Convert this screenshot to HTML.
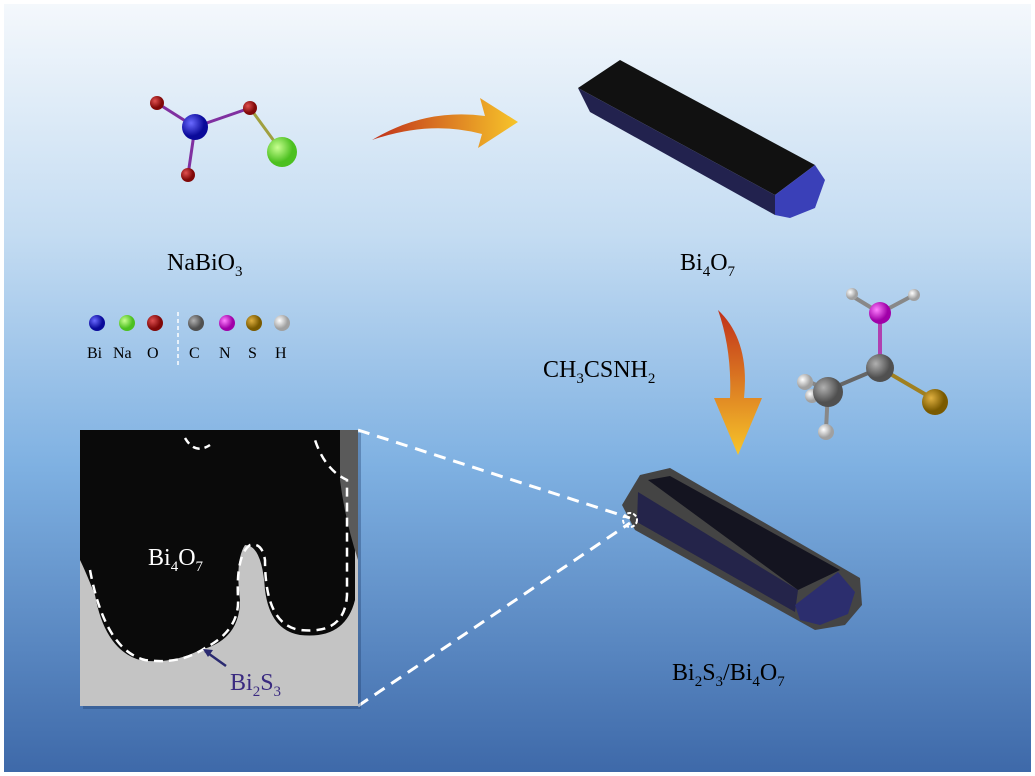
<!DOCTYPE html>
<html><head><meta charset="utf-8"><style>
html,body{margin:0;padding:0;width:1035px;height:776px;overflow:hidden;background:#fff}
svg text{font-family:"Liberation Serif",serif}
</style></head><body>
<svg width="1035" height="776" viewBox="0 0 1035 776" xmlns="http://www.w3.org/2000/svg">
<defs>
<linearGradient id="bg" x1="0" y1="0" x2="0" y2="1">
<stop offset="0" stop-color="#f4f8fc"/><stop offset="0.3" stop-color="#c4dcf2"/><stop offset="0.6" stop-color="#7fb1e2"/><stop offset="1" stop-color="#3e69a9"/></linearGradient>
<linearGradient id="ar" x1="0" y1="0" x2="1" y2="0"><stop offset="0" stop-color="#c0301a"/><stop offset="1" stop-color="#f7c52a"/></linearGradient>
<linearGradient id="ar2" x1="0" y1="0" x2="0" y2="1"><stop offset="0" stop-color="#c0301a"/><stop offset="1" stop-color="#f7c52a"/></linearGradient>
<radialGradient id="gB" cx=".35" cy=".35"><stop offset="0" stop-color="#6a6aff"/><stop offset="1" stop-color="#0a0a9a"/></radialGradient>
<radialGradient id="gG" cx=".35" cy=".35"><stop offset="0" stop-color="#c8ff90"/><stop offset="1" stop-color="#4cc020"/></radialGradient>
<radialGradient id="gR" cx=".35" cy=".35"><stop offset="0" stop-color="#e05050"/><stop offset="1" stop-color="#800808"/></radialGradient>
<radialGradient id="gC" cx=".35" cy=".35"><stop offset="0" stop-color="#b0b0b0"/><stop offset="1" stop-color="#505050"/></radialGradient>
<radialGradient id="gN" cx=".35" cy=".35"><stop offset="0" stop-color="#ff80ff"/><stop offset="1" stop-color="#a000a8"/></radialGradient>
<radialGradient id="gS" cx=".35" cy=".35"><stop offset="0" stop-color="#e0b040"/><stop offset="1" stop-color="#7a5a00"/></radialGradient>
<radialGradient id="gH" cx=".35" cy=".35"><stop offset="0" stop-color="#ffffff"/><stop offset="1" stop-color="#a0a0a0"/></radialGradient>
</defs>
<rect x="0" y="0" width="1035" height="776" fill="#fff"/>
<rect x="4" y="4" width="1027" height="768" fill="url(#bg)"/>

<g stroke-width="3">
<line x1="157" y1="103" x2="195" y2="127" stroke="#8030a0"/>
<line x1="195" y1="127" x2="188" y2="175" stroke="#8030a0"/>
<line x1="195" y1="127" x2="250" y2="108" stroke="#8030a0"/>
<line x1="250" y1="108" x2="282" y2="152" stroke="#a0a040"/>
</g>
<circle cx="157" cy="103" r="7" fill="url(#gR)"/>
<circle cx="188" cy="175" r="7" fill="url(#gR)"/>
<circle cx="250" cy="108" r="7" fill="url(#gR)"/>
<circle cx="195" cy="127" r="13" fill="url(#gB)"/>
<circle cx="282" cy="152" r="15" fill="url(#gG)"/>
<text x="167" y="270" font-size="24">NaBiO<tspan font-size="15" dy="6">3</tspan></text>

<path d="M372 140 Q425 108 485 116 L480 98 L518 122 L478 148 L482 134 Q430 120 372 140 Z" fill="url(#ar)"/>

<polygon points="578,88 620,60 815,165 775,195" fill="#111"/>
<polygon points="578,88 775,195 775,215 590,112" fill="#22224e"/>
<polygon points="775,195 815,165 825,180 815,208 790,218 775,215" fill="#3a40b8"/>
<text x="680" y="270" font-size="24">Bi<tspan font-size="15" dy="6">4</tspan><tspan dy="-6">O</tspan><tspan font-size="15" dy="6">7</tspan></text>

<g font-size="16">
<circle cx="97" cy="323" r="8" fill="url(#gB)"/><text x="87" y="358">Bi</text>
<circle cx="127" cy="323" r="8" fill="url(#gG)"/><text x="113" y="358">Na</text>
<circle cx="155" cy="323" r="8" fill="url(#gR)"/><text x="147" y="358">O</text>
<line x1="178" y1="312" x2="178" y2="365" stroke="#fff" stroke-width="1.5" stroke-dasharray="4,3"/>
<circle cx="196" cy="323" r="8" fill="url(#gC)"/><text x="189" y="358">C</text>
<circle cx="227" cy="323" r="8" fill="url(#gN)"/><text x="219" y="358">N</text>
<circle cx="254" cy="323" r="8" fill="url(#gS)"/><text x="248" y="358">S</text>
<circle cx="282" cy="323" r="8" fill="url(#gH)"/><text x="275" y="358">H</text>
</g>

<path d="M718 310 Q750 340 744 398 L762 398 L738 455 L714 398 L730 398 Q732 350 718 310 Z" fill="url(#ar2)"/>
<text x="543" y="377" font-size="24">CH<tspan font-size="15" dy="6">3</tspan><tspan dy="-6">CSNH</tspan><tspan font-size="15" dy="6">2</tspan></text>

<g stroke-width="4">
<line x1="880" y1="313" x2="852" y2="296" stroke="#888"/>
<line x1="880" y1="313" x2="912" y2="296" stroke="#888"/>
<line x1="880" y1="313" x2="880" y2="368" stroke="#b040b0"/>
<line x1="880" y1="368" x2="828" y2="390" stroke="#666"/>
<line x1="880" y1="368" x2="935" y2="400" stroke="#a08020"/>
<line x1="828" y1="390" x2="805" y2="380" stroke="#888"/>
<line x1="828" y1="390" x2="826" y2="430" stroke="#888"/>
</g>
<circle cx="852" cy="294" r="6" fill="url(#gH)"/>
<circle cx="914" cy="295" r="6" fill="url(#gH)"/>
<circle cx="880" cy="313" r="11" fill="url(#gN)"/>
<circle cx="880" cy="368" r="14" fill="url(#gC)"/>
<circle cx="935" cy="402" r="13" fill="url(#gS)"/>
<circle cx="805" cy="382" r="8" fill="url(#gH)"/>
<circle cx="812" cy="396" r="7" fill="url(#gH)"/>
<circle cx="828" cy="392" r="15" fill="url(#gC)"/>
<circle cx="826" cy="432" r="8" fill="url(#gH)"/>

<polygon points="622,505 640,475 670,468 860,578 862,605 845,625 815,630 635,530" fill="#444"/>
<polygon points="648,480 670,476 840,570 798,590" fill="#141420"/>
<polygon points="638,492 798,590 795,612 637,522" fill="#24244a"/>
<polygon points="795,605 838,572 855,592 848,614 820,625 800,620" fill="#2c2e6e"/>
<text x="672" y="680" font-size="24">Bi<tspan font-size="15" dy="6">2</tspan><tspan dy="-6">S</tspan><tspan font-size="15" dy="6">3</tspan><tspan dy="-6">/Bi</tspan><tspan font-size="15" dy="6">4</tspan><tspan dy="-6">O</tspan><tspan font-size="15" dy="6">7</tspan></text>

<line x1="358" y1="430" x2="630" y2="518" stroke="#fff" stroke-width="3" stroke-dasharray="12,8"/>
<line x1="358" y1="706" x2="630" y2="523" stroke="#fff" stroke-width="3" stroke-dasharray="12,8"/>
<circle cx="630" cy="520" r="7" fill="none" stroke="#fff" stroke-width="2" stroke-dasharray="4,2"/>

<rect x="83" y="433" width="278" height="276" fill="#1e3a66" opacity="0.35"/>
<rect x="80" y="430" width="278" height="276" fill="#c4c4c4"/>
<path d="M80 430 H355 V600 Q345 640 300 635 Q270 630 265 590 Q262 545 245 545 Q235 560 240 600 Q240 640 200 650 Q170 665 140 660 Q105 650 95 595 Q85 570 80 560 Z" fill="#0a0a0a"/>
<path d="M340 430 H358 V560 Q345 520 340 480 Z" fill="#5a5a5a"/>
<path d="M90 570 Q105 650 145 660 Q180 665 205 648 Q240 630 238 598 Q236 555 250 545 Q262 542 265 560 Q265 625 300 630 Q345 635 347 595 L347 480 Q325 470 315 440" fill="none" stroke="#fff" stroke-width="2.5" stroke-dasharray="9,6"/>
<path d="M185 438 Q195 455 210 445" fill="none" stroke="#fff" stroke-width="2.5" stroke-dasharray="7,5"/>
<text x="148" y="565" font-size="24" fill="#fff">Bi<tspan font-size="15" dy="6">4</tspan><tspan dy="-6">O</tspan><tspan font-size="15" dy="6">7</tspan></text>
<line x1="205" y1="651" x2="226" y2="666" stroke="#2a2a70" stroke-width="2.5"/>
<polygon points="203,649 213,650 208,657" fill="#2a2a70"/>
<text x="230" y="690" font-size="24" fill="#3a2a80">Bi<tspan font-size="15" dy="6">2</tspan><tspan dy="-6">S</tspan><tspan font-size="15" dy="6">3</tspan></text>
</svg>
</body></html>
